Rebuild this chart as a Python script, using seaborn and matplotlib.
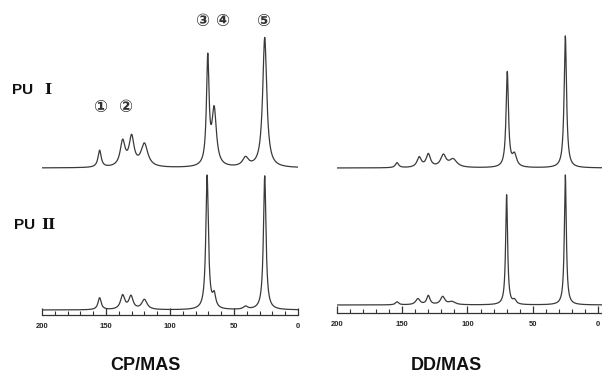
import matplotlib
matplotlib.use("Agg")
import matplotlib.pyplot as plt
from matplotlib.ticker import MultipleLocator
import numpy as np
import pandas as pd
import seaborn as sns

sns.set_theme(style="white")
plt.rcParams["font.family"] = ["Liberation Sans", "DejaVu Sans", "Noto Sans CJK JP"]

# peak tables: shift (ppm), height (px), half width (ppm)
cp1_shift = [155, 137, 130, 120, 70.5, 65.5, 41, 26]
cp1_height = [17, 25, 29, 23, 106, 56, 9, 130]
cp1_width = [1.5, 2.3, 2.3, 3.2, 1.2, 2.1, 2.8, 1.9]

cp2_shift = [155, 137, 130.5, 120, 71, 65.5, 41, 26]
cp2_height = [12, 14, 13, 10, 134, 13, 3, 134]
cp2_width = [1.5, 2.0, 2.0, 2.5, 1.2, 1.5, 2.0, 1.2]

dd1_shift = [154, 137, 130, 118.5, 111, 69.5, 64, 25]
dd1_height = [5, 10, 13, 12, 8, 95, 12, 132]
dd1_width = [1.5, 2.0, 2.0, 2.5, 3.5, 1.1, 2.0, 1.1]

dd2_shift = [154, 138, 130, 119, 112, 70, 64, 25]
dd2_height = [3, 6, 9, 8, 3, 110, 4, 130]
dd2_width = [1.5, 2.0, 1.5, 2.0, 3.0, 0.9, 1.5, 0.9]

tick_values = [200, 150, 100, 50, 0]
tick_labels = ["200", "150", "100", "50", "0"]


def spectrum(ppm, shifts, heights, widths):
    y = np.zeros_like(ppm)
    for s, h, w in zip(shifts, heights, widths):
        y += h / (1 + ((ppm - s) / w) ** 2)
    return y


W, H = 602, 373
fig = plt.figure(figsize=(W / 100, H / 100), dpi=100)
fig.patch.set_facecolor("white")

# axes placed in pixel units; y data = pixels above the axis line
panels = [
    dict(px=(42, 298), axis_y=315, xlim=(200, 0),
         traces=[(cp1_shift, cp1_height, cp1_width, 147),
                 (cp2_shift, cp2_height, cp2_width, 5)]),
    dict(px=(337, 602), axis_y=313, xlim=(200, -3.1),
         traces=[(dd1_shift, dd1_height, dd1_width, 145),
                 (dd2_shift, dd2_height, dd2_width, 8)]),
]

for p in panels:
    x0, x1 = p["px"]
    ay = p["axis_y"]
    ax = fig.add_axes([x0 / W, (H - ay) / H, (x1 - x0) / W, ay / H])
    ax.patch.set_alpha(0)
    ppm = np.linspace(p["xlim"][0], p["xlim"][1], 3000)
    for shifts, heights, widths, base in p["traces"]:
        df = pd.DataFrame({"ppm": ppm, "y": base + spectrum(ppm, shifts, heights, widths)})
        sns.lineplot(data=df, x="ppm", y="y", ax=ax, color="#3a3a3a",
                     linewidth=0.9, estimator=None, sort=False)
    ax.set_xlim(*p["xlim"])
    ax.set_ylim(0, ay)
    for side in ["top", "right", "left"]:
        ax.spines[side].set_visible(False)
    ax.spines["bottom"].set_color("#333333")
    ax.spines["bottom"].set_linewidth(0.9)
    ax.set_xticks(tick_values)
    ax.set_xticklabels(tick_labels)
    ax.xaxis.set_minor_locator(MultipleLocator(10))
    ax.tick_params(axis="x", which="major", direction="in", length=5, width=0.9,
                   color="#333333", pad=6, labelsize=5.5, bottom=True)
    ax.tick_params(axis="x", which="minor", direction="in", length=3, width=0.8,
                   color="#333333", bottom=True)
    for lab in ax.get_xticklabels():
        lab.set_fontweight("bold")
    ax.set_yticks([])
    ax.set_xlabel("")
    ax.set_ylabel("")


def fig_text(x, y, s, **kw):
    fig.text(x / W, 1 - y / H, s, ha="center", va="center", **kw)


fig_text(145, 366, "CP/MAS", fontsize=13, fontweight="bold", color="#111111")
fig_text(446, 366, "DD/MAS", fontsize=13, fontweight="bold", color="#111111")

lab = dict(fontsize=11, fontweight="bold", color="#111111")
roman = dict(fontsize=11, fontweight="bold", color="#111111",
             family=["DejaVu Serif", "DejaVu Sans"])
fig.text(12 / W, 1 - 90 / H, "PU", ha="left", va="center", **lab)
fig_text(47.5, 90, "I", **roman)
fig.text(14 / W, 1 - 225 / H, "PU", ha="left", va="center", **lab)
fig_text(48.5, 225, "II", **roman)

circ = dict(fontsize=12, fontweight="bold", color="#333333",
            family=["DejaVu Sans", "Noto Sans CJK JP"])
fig_text(100, 107, "①", **circ)
fig_text(125, 107, "②", **circ)
fig_text(202, 21, "③", **circ)
fig_text(222, 21, "④", **circ)
fig_text(263, 21, "⑤", **circ)

fig.savefig("out.png", dpi=100, facecolor="white")
